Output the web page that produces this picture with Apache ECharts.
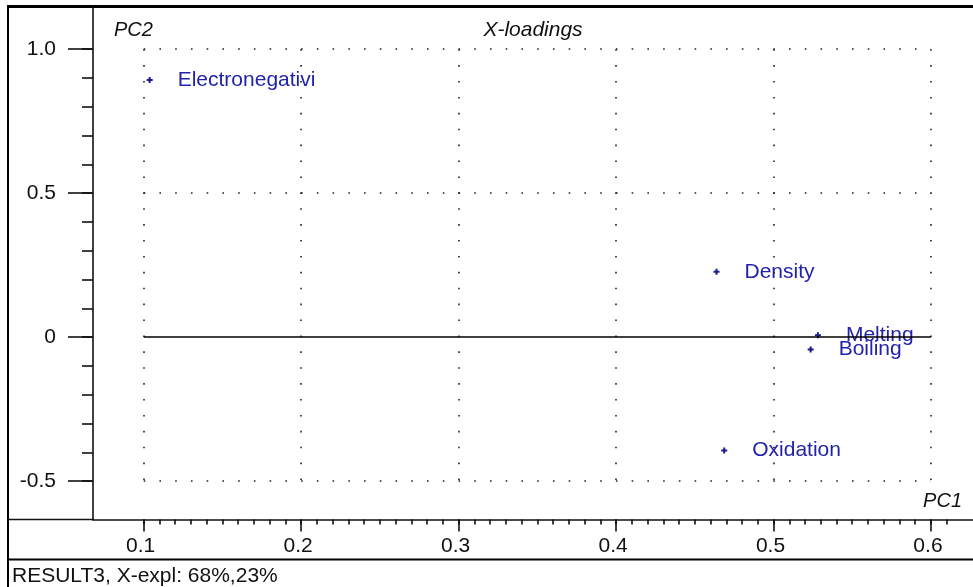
<!DOCTYPE html>
<html>
<head>
<meta charset="utf-8">
<script src="https://cdn.jsdelivr.net/npm/echarts@6/dist/echarts.min.js"></script>
<style>
  html, body { margin: 0; padding: 0; background: #fff; }
  #chart { width: 973px; height: 587px; }
</style>
</head>
<body>
<div id="chart"></div>
<script>
// X-loadings of the variables on PC1 / PC2
const variables = ['Electronegativi', 'Density', 'Melting', 'Boiling', 'Oxidation'];
const pc1 = [0.1038, 0.4638, 0.5282, 0.5236, 0.4687];
const pc2 = [0.893, 0.227, 0.007, -0.043, -0.393];

// axis ticks and their labels
const xTicks = [0.1, 0.2, 0.3, 0.4, 0.5, 0.6];
const xTickLabels = ['0.1', '0.2', '0.3', '0.4', '0.5', '0.6'];
const yTicks = [-0.5, 0, 0.5, 1.0];
const yTickLabels = ['-0.5', '0', '0.5', '1.0'];

// visible axis extents
const xRange = [0.0678, 0.6267];
const yRange = [-0.633, 1.1465];

// minor ticks: every 0.01 on PC1, every 0.1 on PC2
const xMinor = [];
for (let i = 10; i <= 61; i++) xMinor.push(+(i / 100).toFixed(2));
const yMinor = [];
for (let i = -5; i <= 10; i++) yMinor.push(+(i / 10).toFixed(1));

const FONT = "'Liberation Sans', Arial, sans-serif";
const INK = '#111';

const points = variables.map((name, i) => ({ name, value: [pc1[i], pc2[i]] }));

// dotted reference grid between the outer major ticks
const gx0 = xTicks[0], gx1 = xTicks[xTicks.length - 1];
const gy0 = yTicks[0], gy1 = yTicks[yTicks.length - 1];
const vLines = xTicks.map(x => [{ coord: [x, gy1] }, { coord: [x, gy0] }]);
const hLines = yTicks.filter(y => y !== 0).map(y => [{ coord: [gx0, y] }, { coord: [gx1, y] }]);
const zeroLine = [[{ coord: [gx0, 0] }, { coord: [gx1, 0] }]];

const markLineBase = (data, lineStyle) => ({
  silent: true,
  symbol: ['none', 'none'],
  label: { show: false },
  emphasis: { disabled: true },
  lineStyle,
  data
});

const plus = 'path://M2,0H4V2H6V4H4V6H2V4H0V2H2Z';

const chart = echarts.init(document.getElementById('chart'), null, { renderer: 'canvas' });

chart.setOption({
  animation: false,
  backgroundColor: '#fff',
  textStyle: { fontFamily: FONT },
  grid: { left: 93, top: 7, right: 0, bottom: 67.5, containLabel: false },
  xAxis: [
    {
      type: 'value', min: xRange[0], max: xRange[1],
      axisLine: { show: true, onZero: false, lineStyle: { color: INK, width: 1.6 } },
      axisTick: { show: true, length: 12, customValues: xTicks, lineStyle: { color: INK, width: 1.6 } },
      axisLabel: {
        customValues: xTicks, margin: 16, color: INK, fontSize: 21, fontFamily: FONT,
        padding: [0, 6, 0, 0],
        formatter: v => xTickLabels[xTicks.findIndex(t => Math.abs(t - v) < 1e-9)] ?? ''
      },
      splitLine: { show: false }
    },
    {
      type: 'value', min: xRange[0], max: xRange[1], position: 'bottom',
      axisLine: { show: false, onZero: false },
      axisTick: { show: true, length: 5, customValues: xMinor, lineStyle: { color: INK, width: 1.6 } },
      axisLabel: { show: false },
      splitLine: { show: false }
    }
  ],
  yAxis: [
    {
      type: 'value', min: yRange[0], max: yRange[1],
      axisLine: { show: true, onZero: false, lineStyle: { color: INK, width: 1.6 } },
      axisTick: { show: true, length: 25, customValues: yTicks, lineStyle: { color: INK, width: 1.6 } },
      axisLabel: {
        customValues: yTicks, margin: 37, color: INK, fontSize: 21, fontFamily: FONT,
        formatter: v => yTickLabels[yTicks.findIndex(t => Math.abs(t - v) < 1e-9)] ?? ''
      },
      splitLine: { show: false }
    },
    {
      type: 'value', min: yRange[0], max: yRange[1], position: 'left',
      axisLine: { show: false, onZero: false },
      axisTick: { show: true, length: 11, customValues: yMinor, lineStyle: { color: INK, width: 1.6 } },
      axisLabel: { show: false },
      splitLine: { show: false }
    }
  ],
  series: [
    {
      name: 'vgrid', type: 'scatter', data: [], silent: true,
      markLine: markLineBase(vLines, { color: '#222', width: 1.6, type: [1.6, 14.3] })
    },
    {
      name: 'hgrid', type: 'scatter', data: [], silent: true,
      markLine: markLineBase(hLines, { color: '#222', width: 1.6, type: [1.6, 14.14] })
    },
    {
      name: 'zero', type: 'scatter', data: [], silent: true,
      markLine: markLineBase(zeroLine, { color: '#000', width: 1.6, type: 'solid' })
    },
    {
      name: 'X-loadings', type: 'scatter', data: points,
      symbol: plus, symbolSize: 6,
      itemStyle: { color: '#1a1a8c', opacity: 1 },
      label: {
        show: true, position: 'right', distance: 25,
        formatter: p => p.name,
        color: '#2222aa', opacity: 1, fontSize: 21, fontFamily: FONT
      },
      emphasis: { disabled: true }
    }
  ],
  graphic: [
    // outer frame and panel separators
    { type: 'line', shape: { x1: 7, y1: 6.5, x2: 973, y2: 6.5 }, style: { stroke: '#000', lineWidth: 3 }, silent: true },
    { type: 'line', shape: { x1: 8, y1: 5, x2: 8, y2: 587 }, style: { stroke: '#000', lineWidth: 2 }, silent: true },
    { type: 'line', shape: { x1: 8, y1: 519.5, x2: 94, y2: 519.5 }, style: { stroke: INK, lineWidth: 1.6 }, silent: true },
    { type: 'line', shape: { x1: 8, y1: 559.5, x2: 973, y2: 559.5 }, style: { stroke: '#000', lineWidth: 2 }, silent: true },
    // captions
    { type: 'text', x: 533, y: 30, silent: true,
      style: { text: 'X-loadings', fill: INK, font: 'italic 21px ' + FONT, align: 'center', verticalAlign: 'middle' } },
    { type: 'text', x: 114, y: 30, silent: true,
      style: { text: 'PC2', fill: INK, font: 'italic 20px ' + FONT, align: 'left', verticalAlign: 'middle' } },
    { type: 'text', x: 962, y: 501, silent: true,
      style: { text: 'PC1', fill: INK, font: 'italic 20px ' + FONT, align: 'right', verticalAlign: 'middle' } },
    { type: 'text', x: 12, y: 576, silent: true,
      style: { text: 'RESULT3, X-expl: 68%,23%', fill: INK, font: '21px ' + FONT, align: 'left', verticalAlign: 'middle' } }
  ]
});
</script>
</body>
</html>
